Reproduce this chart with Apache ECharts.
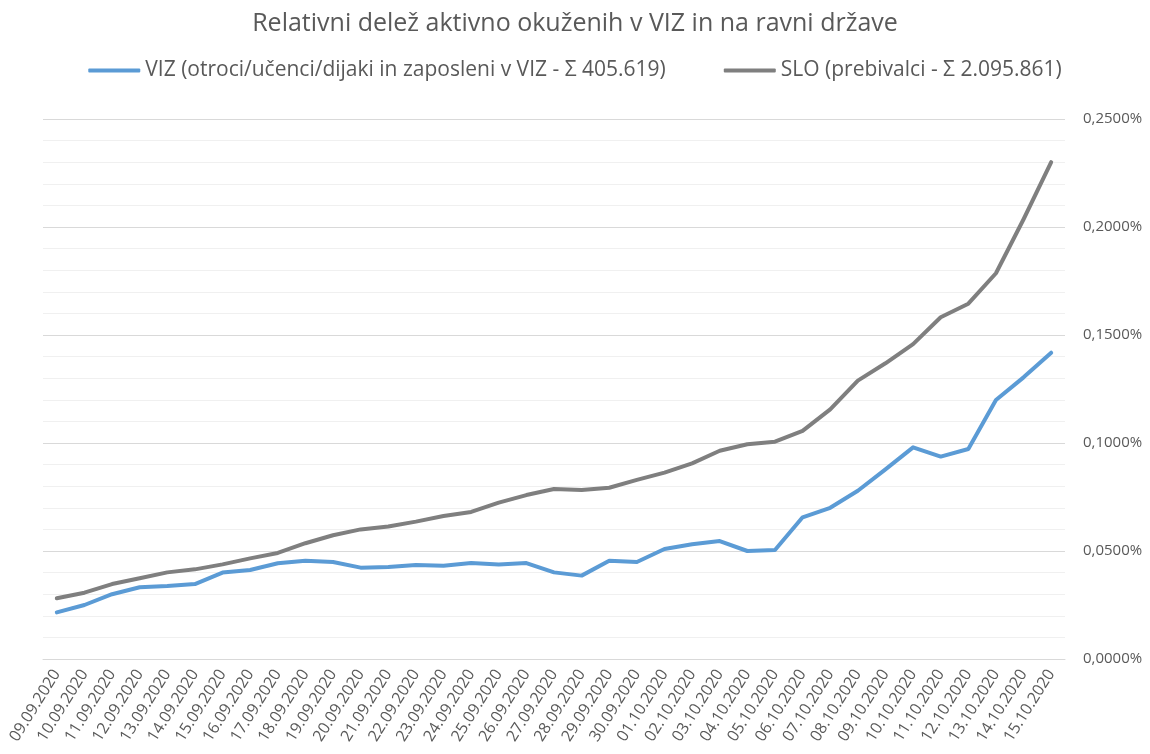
<!DOCTYPE html>
<html>
<head>
<meta charset="utf-8">
<script src="https://cdn.jsdelivr.net/npm/echarts@6/dist/echarts.min.js"></script>
<style>
  html, body { margin: 0; padding: 0; background: #ffffff; }
  #main { width: 1150px; height: 754px; }
</style>
</head>
<body>
<div id="main"></div>
<script>
// datumi
var dates = [
  '09.09.2020','10.09.2020','11.09.2020','12.09.2020','13.09.2020','14.09.2020','15.09.2020',
  '16.09.2020','17.09.2020','18.09.2020','19.09.2020','20.09.2020','21.09.2020','22.09.2020',
  '23.09.2020','24.09.2020','25.09.2020','26.09.2020','27.09.2020','28.09.2020','29.09.2020',
  '30.09.2020','01.10.2020','02.10.2020','03.10.2020','04.10.2020','05.10.2020','06.10.2020',
  '07.10.2020','08.10.2020','09.10.2020','10.10.2020','11.10.2020','12.10.2020','13.10.2020',
  '14.10.2020','15.10.2020'
];

// delez v % (VIZ)
var vizValues = [
  0.0216, 0.0250, 0.0300, 0.0332, 0.0338, 0.0347, 0.0400, 0.0412, 0.0443, 0.0455,
  0.0449, 0.0423, 0.0426, 0.0435, 0.0432, 0.0444, 0.0438, 0.0444, 0.0401, 0.0386,
  0.0455, 0.0449, 0.0509, 0.0531, 0.0546, 0.0500, 0.0505, 0.0656, 0.0700, 0.0779,
  0.0878, 0.0980, 0.0937, 0.0972, 0.1199, 0.1304, 0.1418
];

// delez v % (SLO)
var sloValues = [
  0.0281, 0.0307, 0.0347, 0.0374, 0.0401, 0.0415, 0.0438, 0.0466, 0.0491, 0.0536,
  0.0573, 0.0600, 0.0613, 0.0636, 0.0662, 0.0681, 0.0724, 0.0759, 0.0787, 0.0782,
  0.0793, 0.0829, 0.0863, 0.0906, 0.0964, 0.0994, 0.1006, 0.1056, 0.1156, 0.1289,
  0.1369, 0.1458, 0.1582, 0.1645, 0.1786, 0.2036, 0.2300
];

var seriesNames = [
  'VIZ (otroci/učenci/dijaki in zaposleni v VIZ - Σ 405.619)',
  'SLO (prebivalci - Σ 2.095.861)'
];

var myChart = echarts.init(document.getElementById('main'));
var font = '"Open Sans", "Noto Sans", sans-serif';

myChart.setOption({
  backgroundColor: '#ffffff',
  animation: false,
  title: {
    text: 'Relativni delež aktivno okuženih v VIZ in na ravni države',
    left: 'center',
    top: 6,
    textStyle: { color: '#595959', fontSize: 25, fontWeight: 'normal', fontFamily: font }
  },
  legend: {
    top: 55,
    left: 'center',
    itemWidth: 52,
    itemHeight: 4,
    itemGap: 58,
    icon: 'roundRect',
    textStyle: { color: '#595959', fontSize: 21, fontFamily: font },
    data: seriesNames
  },
  grid: {
    left: 43,
    right: 85,
    top: 119,
    bottom: 95
  },
  xAxis: {
    type: 'category',
    data: dates,
    boundaryGap: true,
    axisLine: { lineStyle: { color: '#d9d9d9', width: 1 } },
    axisTick: { show: false },
    axisLabel: {
      color: '#595959',
      fontSize: 16,
      fontFamily: font,
      rotate: 58,
      interval: 0,
      margin: 12
    }
  },
  yAxis: {
    type: 'value',
    position: 'right',
    min: 0,
    max: 0.25,
    interval: 0.05,
    axisLine: { show: false },
    axisTick: { show: false },
    axisLabel: {
      color: '#595959',
      fontSize: 15,
      fontFamily: font,
      margin: 18,
      formatter: function (v) { return v.toFixed(4).replace('.', ',') + '%'; }
    },
    splitLine: { lineStyle: { color: '#d9d9d9', width: 1 } },
    minorTick: { show: false, splitNumber: 5 },
    minorSplitLine: { show: true, lineStyle: { color: '#f0f0f0', width: 1 } }
  },
  series: [
    {
      name: seriesNames[0],
      type: 'line',
      data: vizValues,
      symbol: 'none',
      lineStyle: { color: '#5b9bd5', width: 4, cap: 'round', join: 'round' },
      itemStyle: { color: '#5b9bd5' }
    },
    {
      name: seriesNames[1],
      type: 'line',
      data: sloValues,
      symbol: 'none',
      lineStyle: { color: '#7f7f7f', width: 4, cap: 'round', join: 'round' },
      itemStyle: { color: '#7f7f7f' }
    }
  ]
});
</script>
</body>
</html>
